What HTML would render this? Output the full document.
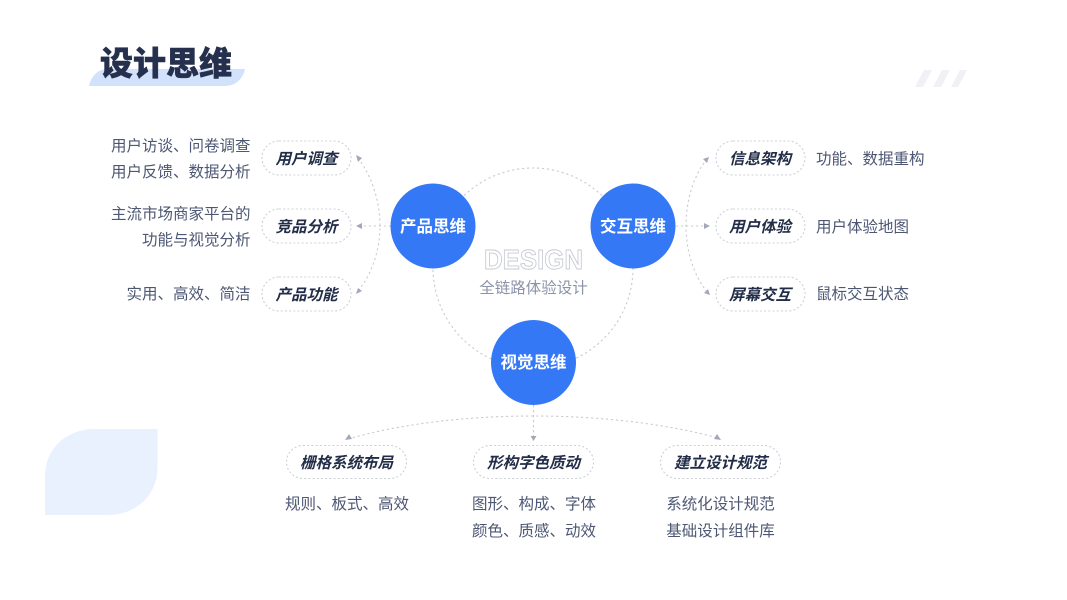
<!DOCTYPE html>
<html lang="zh">
<head>
<meta charset="utf-8">
<style>
html,body{margin:0;padding:0;background:#fff;width:1067px;height:600px;overflow:hidden}
svg{display:block}
text{font-family:"Liberation Sans","Noto Sans CJK SC",sans-serif}
.d{font-size:15.5px;fill:#4d5773}
.t{font-size:15.5px;font-weight:700;font-style:italic;fill:#222d47;text-anchor:middle}
.c{font-size:16.5px;font-weight:700;fill:#fff;text-anchor:middle}
.p{fill:#fff;stroke:#cdd0d7;stroke-width:1.1;stroke-dasharray:2 2.2}
.l{fill:none;stroke:#c8cbd3;stroke-width:1.1;stroke-dasharray:2.2 2.8}
.a{fill:#a2a8b7}
.e{text-anchor:end}
.m{text-anchor:middle}
</style>
</head>
<body>
<svg width="1067" height="600" viewBox="0 0 1067 600" xmlns="http://www.w3.org/2000/svg">
<rect width="1067" height="600" fill="#fff"/>
<path d="M157.500 429V468C157.500 494 137 515 108 515H45V476C45 449 66 429 95 429Z" fill="#e9f1fe"/>
<path d="M89 86C91 76 98 69 108 69H245C243 79 235 86 225 86Z" fill="#d3e2fc"/>
<text x="100" y="75" font-size="33" font-weight="900" fill="#24304d" stroke="#24304d" stroke-width=".5">设计思维</text>
<g fill="#eff1f4">
<path d="M915 87L924 70H932L923 87Z"/>
<path d="M933 87L942 70H950L941 87Z"/>
<path d="M951 87L960 70H967L958 87Z"/>
</g>

<circle class="l" cx="533" cy="268" r="100"/>
<path class="l" d="M391 226H358"/>
<path class="l" d="M676 226H706"/>
<path class="l" d="M533.500 405V436"/>
<path class="l" d="M358 158C372 176 380 202 380 226C380 250 372 274 358 291"/>
<path class="l" d="M707 159C693 176 686 202 686 226C686 250 693 274 707 292"/>
<path class="l" d="M348 439C400 424 465 416 533.500 416C602 416 667 424 718 438"/>

<path class="a" d="M356 155L362 158L358 162Z"/>
<path class="a" d="M356 226L362 223V229Z"/>
<path class="a" d="M356 294L358 288L362 291Z"/>
<path class="a" d="M709 157L707 163L703 159Z"/>
<path class="a" d="M710 226L704 223V229Z"/>
<path class="a" d="M710 295L704 293L708 289Z"/>
<path class="a" d="M345 440L349 434L352 439Z"/>
<path class="a" d="M533.500 441L530.500 436H536.500Z"/>
<path class="a" d="M721 440L714 439L717 434Z"/>

<circle cx="433" cy="226" r="42.500" fill="#3478f6"/>
<circle cx="633" cy="226" r="42.500" fill="#3478f6"/>
<circle cx="533.500" cy="362.500" r="42.500" fill="#3478f6"/>
<text class="c" x="433" y="232">产品思维</text>
<text class="c" x="633" y="232">交互思维</text>
<text class="c" x="533.500" y="368">视觉思维</text>

<text x="484" y="269" font-size="28" font-weight="700" fill="#fff" stroke="#c6c9d1" stroke-width=".9" textLength="99" lengthAdjust="spacingAndGlyphs">DESIGN</text>
<text class="m" x="533.500" y="293" font-size="15.500" fill="#8b93a7">全链路体验设计</text>

<rect class="p" x="262" y="141" width="89" height="34" rx="17"/>
<rect class="p" x="262" y="209" width="89" height="34" rx="17"/>
<rect class="p" x="262" y="277" width="89" height="34" rx="17"/>
<rect class="p" x="716" y="141" width="89" height="34" rx="17"/>
<rect class="p" x="716" y="209" width="89" height="34" rx="17"/>
<rect class="p" x="716" y="277" width="89" height="34" rx="17"/>
<rect class="p" x="286.500" y="445.500" width="120" height="33" rx="16.500"/>
<rect class="p" x="473.500" y="445.500" width="120" height="33" rx="16.500"/>
<rect class="p" x="660.500" y="445.500" width="120" height="33" rx="16.500"/>

<text class="t" x="306.500" y="164">用户调查</text>
<text class="t" x="306.500" y="232">竞品分析</text>
<text class="t" x="306.500" y="300">产品功能</text>
<text class="t" x="760" y="164">信息架构</text>
<text class="t" x="760" y="232">用户体验</text>
<text class="t" x="760" y="300">屏幕交互</text>
<text class="t" x="346.500" y="468">栅格系统布局</text>
<text class="t" x="533.500" y="468">形构字色质动</text>
<text class="t" x="720.500" y="468">建立设计规范</text>

<text class="d e" x="250.500" y="151">用户访谈、问卷调查</text>
<text class="d e" x="250.500" y="177">用户反馈、数据分析</text>
<text class="d e" x="250.500" y="219">主流市场商家平台的</text>
<text class="d e" x="250.500" y="245">功能与视觉分析</text>
<text class="d e" x="250.500" y="299">实用、高效、简洁</text>
<text class="d" x="816" y="164">功能、数据重构</text>
<text class="d" x="816" y="232">用户体验地图</text>
<text class="d" x="816" y="299">鼠标交互状态</text>
<text class="d m" x="347" y="509">规则、板式、高效</text>
<text class="d m" x="534" y="509">图形、构成、字体</text>
<text class="d m" x="534" y="536">颜色、质感、动效</text>
<text class="d m" x="720.500" y="509">系统化设计规范</text>
<text class="d m" x="720.500" y="536">基础设计组件库</text>
</svg>
</body>
</html>
